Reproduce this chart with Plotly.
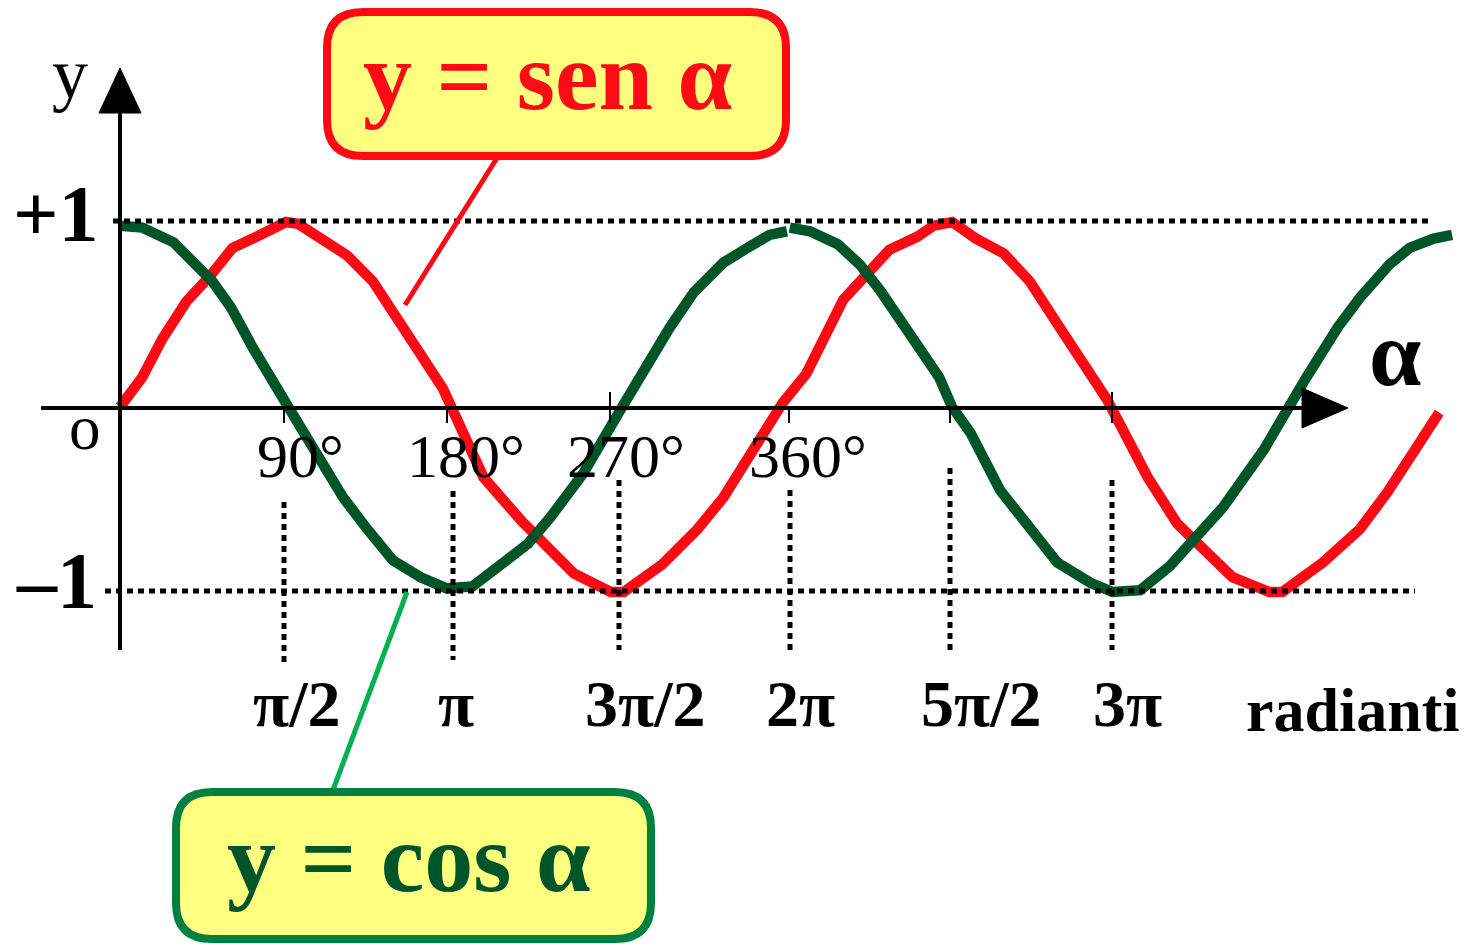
import plotly.graph_objects as go

# ---------------- data ----------------
sin_deg = [0, 12, 23, 36, 49, 61, 74, 85, 90, 96.5, 110, 123, 137, 151, 164, 175,
           197, 218, 246, 266, 273, 294, 313, 327, 359, 372, 392, 403, 417, 432,
           441, 451, 464, 479, 493, 508, 522, 535, 557, 573, 603, 623, 630, 652,
           672, 687, 715]
sin_val = [0.0, 0.16, 0.37, 0.57, 0.71, 0.86, 0.92, 0.98, 1.0, 0.99, 0.91, 0.82, 0.68,
           0.47, 0.27, 0.10, -0.38, -0.62, -0.90, -1.0, -1.0, -0.85, -0.66, -0.49,
           0.02, 0.18, 0.58, 0.69, 0.85, 0.92, 0.98, 1.0, 0.91, 0.83, 0.68, 0.45,
           0.25, 0.04, -0.38, -0.63, -0.92, -1.0, -1.0, -0.84, -0.66, -0.46, -0.03]

cos_deg = [0, 12, 29, 40, 50, 60, 72, 90, 107, 121, 134, 148, 163, 177, 191, 206,
           221, 233, 251, 271, 287, 298, 311, 327, 340, 352, 361.5, None,
           363, 374, 389, 401, 412, 424, 444, 451, 461, 477, 493, 508, 526, 538,
           553, 569, 598, 620, 643, 660, 672, 688, 699, 712, 722]
cos_val = [0.98, 0.97, 0.89, 0.79, 0.68, 0.54, 0.32, 0.02, -0.25, -0.49, -0.66, -0.83,
           -0.92, -0.98, -0.97, -0.86, -0.74, -0.60, -0.36, -0.02, 0.25, 0.43, 0.62,
           0.78, 0.86, 0.93, 0.95, None,
           0.97, 0.95, 0.88, 0.77, 0.63, 0.46, 0.16, 0.0, -0.14, -0.45, -0.66, -0.84,
           -0.95, -1.0, -0.99, -0.86, -0.54, -0.23, 0.16, 0.43, 0.59, 0.77, 0.86,
           0.91, 0.93]

deg_ticks = [90, 180, 270, 360]
deg_labels = ["90°", "180°", "270°", "360°"]
rad_ticks = [90, 180, 270, 360, 450, 540]
rad_labels = ["π/2", "π", "3π/2", "2π", "5π/2", "3π"]
sin_title = "y = sen α"
cos_title = "y = cos α"

# ---------------- geometry helpers (page pixel coordinates) ----------------
PAGE_W, PAGE_H = 1470, 944
OFF = 8                      # default body margin of the html page
W, H = PAGE_W - OFF, PAGE_H - OFF
X0PX, XS = 120, 1.845        # page pixel of 0°, pixels per degree
Y0PX, YS = 407, 185          # page pixel of y=0, pixels per unit


def X(px):
    return (px - X0PX) / XS


def Y(py):
    return (Y0PX - py) / YS


RED = "#ff0a14"
DKGREEN = "#00542a"
BOXGREEN = "#008040"
LTGREEN = "#00b050"
YELLOW = "#ffff80"
SERIF = "Liberation Serif"

fig = go.Figure()
fig.add_trace(go.Scatter(x=sin_deg, y=sin_val, mode="lines",
                         line=dict(color=RED, width=10.5), hoverinfo="skip",
                         connectgaps=False))
fig.add_trace(go.Scatter(x=cos_deg, y=cos_val, mode="lines",
                         line=dict(color=DKGREEN, width=10.5), hoverinfo="skip",
                         connectgaps=False))

shapes = []


def line(x0, y0, x1, y1, color="black", width=4, dash=None):
    d = dict(type="line", xref="x", yref="y", x0=X(x0), y0=Y(y0), x1=X(x1), y1=Y(y1),
             line=dict(color=color, width=width), layer="above")
    if dash:
        d["line"]["dash"] = dash
    shapes.append(d)


def poly(pts, color="black"):
    p = "M " + " L ".join(f"{X(a):.4f},{Y(b):.4f}" for a, b in pts) + " Z"
    shapes.append(dict(type="path", xref="x", yref="y", path=p, fillcolor=color,
                       line=dict(color=color, width=1), layer="above"))


def rrect(x0, y0, x1, y1, r, fill, border, bw):
    P = lambda a, b: f"{X(a):.4f},{Y(b):.4f}"
    p = (f"M {P(x0 + r, y0)} L {P(x1 - r, y0)} Q {P(x1, y0)} {P(x1, y0 + r)} "
         f"L {P(x1, y1 - r)} Q {P(x1, y1)} {P(x1 - r, y1)} "
         f"L {P(x0 + r, y1)} Q {P(x0, y1)} {P(x0, y1 - r)} "
         f"L {P(x0, y0 + r)} Q {P(x0, y0)} {P(x0 + r, y0)} Z")
    shapes.append(dict(type="path", xref="x", yref="y", path=p, fillcolor=fill,
                       line=dict(color=border, width=bw), layer="above"))


# dotted guide lines
DOT = "6px,5px"
line(113, 221, 1432, 221, width=5, dash=DOT)
line(105, 591, 1415, 591, width=5, dash=DOT)
for xp, ytop, ybot in [(284, 502, 662), (453, 491, 660), (619, 480, 650),
                       (790, 490, 652), (950, 468, 650), (1112, 480, 650)]:
    line(xp, ytop, xp, ybot, width=5, dash=DOT)

# axes
line(120, 650, 120, 112, width=4)
poly([(99, 113), (141, 113), (120, 68)])
line(41, 408, 1304, 408, width=4)
poly([(1302, 388), (1302, 428), (1348, 408)])

# tick marks
for xp, ytop in [(284, 408), (447, 408), (610, 392), (789, 408), (950, 408), (1112, 392)]:
    line(xp, ytop, xp, 423, width=2)

# callout pointers and boxes
line(497, 158, 405, 305, color=RED, width=5)
line(333, 790, 407, 592, color=LTGREEN, width=5)
rrect(327, 12, 786, 156, 36, YELLOW, RED, 8)
rrect(176, 792, 651, 939, 36, YELLOW, BOXGREEN, 8)

annotations = []


def txt(text, xp, yp, size, color="black", bold=False, xshift=0):
    annotations.append(dict(text=text, x=X(xp), y=Y(yp), xref="x", yref="y",
                            showarrow=False, xanchor="center", yanchor="middle",
                            xshift=xshift,
                            font=dict(family=SERIF, size=size, color=color,
                                      weight="bold" if bold else "normal")))


def txt_data(text, xd, yp, size, color="black", bold=False, xshift=0):
    annotations.append(dict(text=text, x=xd, y=Y(yp), xref="x", yref="y",
                            showarrow=False, xanchor="center", yanchor="middle",
                            xshift=xshift,
                            font=dict(family=SERIF, size=size, color=color,
                                      weight="bold" if bold else "normal")))


deg_shift = [14, 14, 8, 24]
rad_shift = [11, 4, 27, 16, 31, 11]
for d, lab, s in zip(deg_ticks, deg_labels, deg_shift):
    txt_data(lab, d, 456, 62, xshift=s)
for d, lab, s in zip(rad_ticks, rad_labels, rad_shift):
    txt_data(lab, d, 703, 66, bold=True, xshift=s)

txt("radianti", 1353, 710, 62, bold=True)
txt("+1", 56, 214, 80, bold=True)
txt("–1", 56, 581, 80, bold=True)
txt("y", 70, 74, 72)
txt("o", 85, 428, 63)
txt("α", 1395, 353, 94, bold=True)
txt(sin_title, 547, 76, 98, color=RED, bold=True)
txt(cos_title, 409, 858, 98, color=DKGREEN, bold=True)

fig.update_layout(
    width=W, height=H, autosize=False,
    margin=dict(l=0, r=0, t=0, b=0, pad=0),
    paper_bgcolor="white", plot_bgcolor="white",
    showlegend=False,
    xaxis=dict(range=[X(OFF), X(PAGE_W)], visible=False, fixedrange=True),
    yaxis=dict(range=[Y(PAGE_H), Y(OFF)], visible=False, fixedrange=True),
    shapes=shapes, annotations=annotations,
)

fig.write_html("out.html")
